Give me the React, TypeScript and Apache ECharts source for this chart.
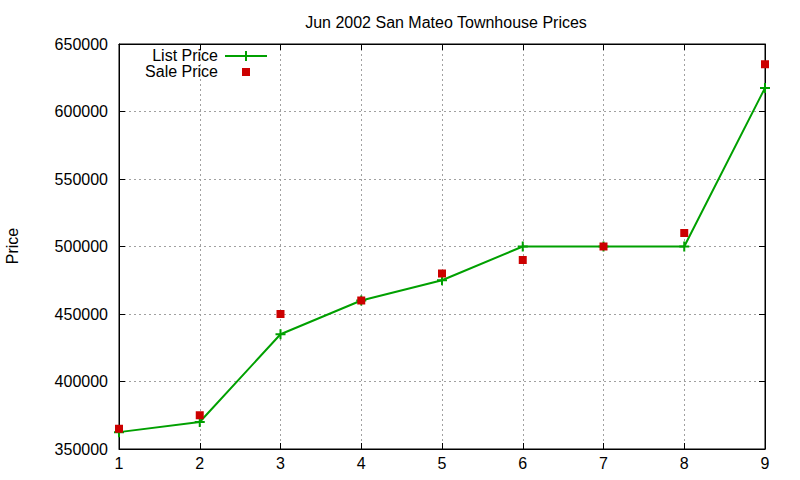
import React, { useEffect, useRef } from "react";
import * as echarts from "echarts";

const xValues = [1, 2, 3, 4, 5, 6, 7, 8, 9];
const listPrice = [362500, 370000, 435000, 460000, 475000, 500000, 500000, 500000, 617500];
const salePrice = [365000, 375000, 450000, 460000, 480000, 490000, 500000, 510000, 635000];

const titleText = "Jun 2002 San Mateo Townhouse Prices";
const yAxisTitle = "Price";
const listLabel = "List Price";
const saleLabel = "Sale Price";

const FONT = "'Liberation Sans', Arial, sans-serif";
const GREEN = "#00a000";
const RED = "#cc0000";
const PLUS = "path://M4,0H6V4H10V6H6V10H4V6H0V4H4Z";

export default function App() {
  const ref = useRef<HTMLDivElement>(null);
  useEffect(() => {
    if (!ref.current) return;
    const chart = echarts.init(ref.current, null, { renderer: "svg" });
    const listData = xValues.map((x, i) => [x, listPrice[i]]);
    const saleData = xValues.map((x, i) => [x, salePrice[i]]);
    const splitLine = { show: true, lineStyle: { color: "#a0a0a0", type: [2, 3], width: 1 } };
    const axisLine = { show: true, lineStyle: { color: "#000", width: 1 } };
    const tick = { show: true, inside: true, length: 6, lineStyle: { color: "#000" } };
    chart.setOption({
      animation: false,
      backgroundColor: "#fff",
      textStyle: { fontFamily: FONT },
      title: {
        text: titleText,
        left: 441,
        top: 9,
        textAlign: "center",
        textStyle: { fontFamily: FONT, fontSize: 16, fontWeight: "normal", color: "#000" },
      },
      grid: { left: 119, right: 35, top: 44, bottom: 31, show: true, borderColor: "#000", borderWidth: 1, backgroundColor: "transparent" },
      xAxis: [
        {
          type: "value", min: 1, max: 9, interval: 1, position: "bottom",
          axisLine, axisTick: tick, splitLine,
          axisLabel: { color: "#000", fontSize: 16, fontFamily: FONT, margin: 6 },
        },
        {
          type: "value", min: 1, max: 9, interval: 1, position: "top",
          axisLine, axisTick: tick, splitLine: { show: false }, axisLabel: { show: false },
        },
      ],
      yAxis: [
        {
          type: "value", min: 350000, max: 650000, interval: 50000, position: "left",
          axisLine, axisTick: tick, splitLine,
          axisLabel: { color: "#000", fontSize: 16, fontFamily: FONT, margin: 11, formatter: (v: number) => String(v) },
        },
        {
          type: "value", min: 350000, max: 650000, interval: 50000, position: "right",
          axisLine, axisTick: tick, splitLine: { show: false }, axisLabel: { show: false },
        },
      ],
      series: [
        {
          name: listLabel, type: "line", data: listData,
          lineStyle: { color: GREEN, width: 2 },
          itemStyle: { color: GREEN },
          symbol: PLUS, symbolSize: 10, showSymbol: true, z: 2,
        },
        {
          name: saleLabel, type: "scatter", data: saleData,
          itemStyle: { color: RED, opacity: 1 },
          symbol: "rect", symbolSize: 8, z: 3,
        },
      ],
      graphic: [
        {
          type: "text", x: 12, y: 246, rotation: Math.PI / 2,
          style: { text: yAxisTitle, fontSize: 16, fontFamily: FONT, fill: "#000", align: "center", verticalAlign: "middle" },
        },
        {
          type: "text", x: 218, y: 55,
          style: { text: listLabel, fontSize: 16, lineHeight: 15, fontFamily: FONT, fill: "#000", align: "right", verticalAlign: "middle" },
        },
        { type: "line", shape: { x1: 225, y1: 56, x2: 267, y2: 56 }, style: { stroke: GREEN, lineWidth: 2 } },
        { type: "rect", shape: { x: 241, y: 55, width: 10, height: 2 }, style: { fill: GREEN } },
        { type: "rect", shape: { x: 245, y: 51, width: 2, height: 10 }, style: { fill: GREEN } },
        {
          type: "text", x: 218, y: 71,
          style: { text: saleLabel, fontSize: 16, lineHeight: 15, fontFamily: FONT, fill: "#000", align: "right", verticalAlign: "middle" },
        },
        { type: "rect", shape: { x: 242, y: 68, width: 8, height: 8 }, style: { fill: RED } },
      ],
    });
    return () => chart.dispose();
  }, []);
  return <div ref={ref} style={{ position: "fixed", left: 0, top: 0, width: 800, height: 480, background: "#fff" }} />;
}
